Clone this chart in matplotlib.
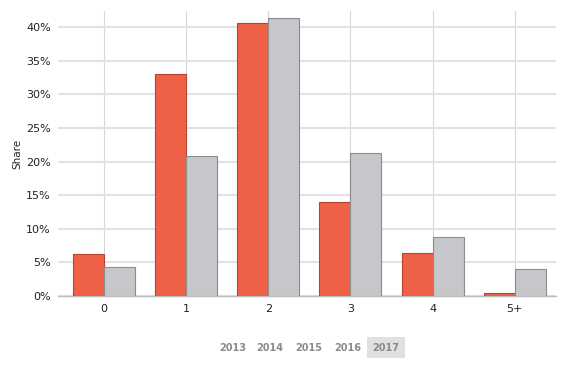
import matplotlib
matplotlib.use("Agg")
import matplotlib.pyplot as plt
from matplotlib.patches import FancyBboxPatch
import numpy as np

categories = ["0", "1", "2", "3", "4", "5+"]
series_a = [6.2, 33.1, 40.6, 14.0, 6.4, 0.5]
series_b = [4.4, 20.9, 41.3, 21.3, 8.8, 4.0]
years = ["2013", "2014", "2015", "2016", "2017"]
active_year = "2017"

fig = plt.figure(figsize=(5.62, 3.66), dpi=100)
ax = fig.add_axes([0.103, 0.191, 0.886, 0.779])

x = np.arange(len(categories))
w = 0.377
ax.bar(x - w/2, series_a, w, color="#EE6146", edgecolor="#B8432F", linewidth=0.8, zorder=3)
ax.bar(x + w/2, series_b, w, color="#C6C7CB", edgecolor="#8C8C8C", linewidth=0.8, zorder=3)

ax.set_xlim(-0.56, 5.5)
ax.set_ylim(0, 42.4)
ax.set_yticks(range(0, 41, 5))
ax.set_yticklabels([f"{v}%" for v in range(0, 41, 5)])
ax.set_xticks(x)
ax.set_xticklabels(categories)
ax.tick_params(axis="both", length=0, labelsize=8, colors="#222222")
ax.tick_params(axis="x", pad=6)
ax.tick_params(axis="y", pad=5)
ax.set_ylabel("Share", fontsize=7.5, color="#222222", labelpad=3)

ax.yaxis.grid(True, color="#E2E2E2", linewidth=1.5, zorder=0)
ax.xaxis.grid(True, color="#D8D8D8", linewidth=0.8, zorder=0)
for s in ["top", "right", "left"]:
    ax.spines[s].set_visible(False)
ax.spines["bottom"].set_color("#BBBBBB")
ax.spines["bottom"].set_linewidth(1.0)

# year selector
xs = [233, 270, 309, 348, 386]
ypix = 348
for yr, xp in zip(years, xs):
    fx, fy = xp / 562, 1 - ypix / 366
    if yr == active_year:
        box = FancyBboxPatch((367 / 562, 1 - 358 / 366), 38 / 562, 21 / 366,
                             boxstyle="square,pad=0", transform=fig.transFigure,
                             facecolor="#E0E0E0", edgecolor="none")
        fig.patches.append(box)
    fig.text(fx, fy, yr, ha="center", va="center", fontsize=7,
             fontweight="bold", color="#8A8A8A")

fig.savefig("out.png", dpi=100)
